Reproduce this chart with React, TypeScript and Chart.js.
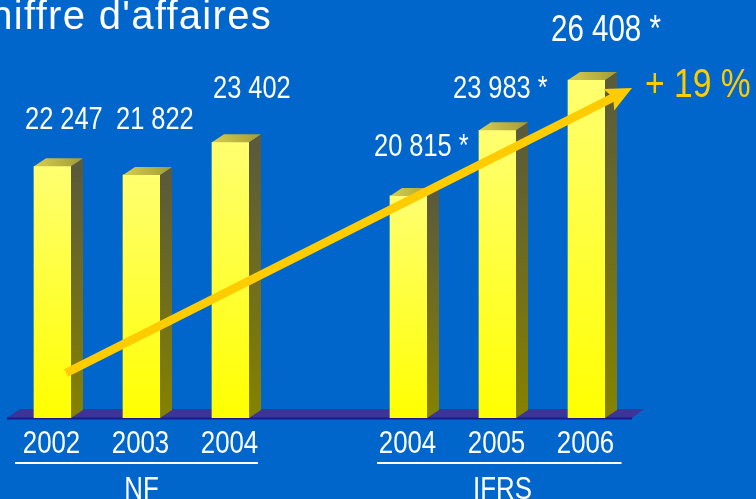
import { useEffect, useRef } from 'react';
import { Chart, registerables } from 'chart.js';

Chart.register(...registerables);

// ---- data ----
const categories = ['2002', '2003', '2004', '', '2004', '2005', '2006'];
const revenue = [22247, 21822, 23402, null, 20815, 23983, 26408];
const valueLabels = ['22 247', '21 822', '23 402', '', '20 815 *', '23 983 *', '26 408 *'];
const groupNames = ['NF', 'IFRS'];
const growthLabel = '+ 19 %';
const titleText = "Chiffre d'affaires";

// ---- styling ----
const FONT = "'Liberation Sans', Arial, sans-serif";
const NARROW_SCALE = 0.82;
const BG = '#0066CC';
const AXIS_MIN = 10100;
const DX = 12;
const DY = 8;
// label placement relative to bar front-left edge / front top (style only)
const labelOffsets: [number, number, number][] = [
  [-9, -37, 31],
  [-7, -46, 31],
  [1, -44, 31],
  [0, 0, 31],
  [-16, -40, 31],
  [-26, -32, 31],
  [-17, -39, 36],
];

function narrowText(ctx: CanvasRenderingContext2D, text: string, x: number, y: number, size: number, align: 'left' | 'center' | 'right') {
  ctx.save();
  ctx.font = `${size}px ${FONT}`;
  ctx.textAlign = align;
  ctx.textBaseline = 'alphabetic';
  ctx.translate(x, y);
  ctx.scale(NARROW_SCALE, 1);
  ctx.fillText(text, 0, 0);
  ctx.restore();
}

const deco = {
  id: 'deco',
  beforeDatasetsDraw(chart: any) {
    const { ctx, scales } = chart;
    const x = scales.x;
    const y = scales.y;
    const fl = x.getPixelForValue(0) - 45.5;
    const fr = x.getPixelForValue(6) + 45.5;
    const fy = y.getPixelForValue(y.min);
    ctx.save();
    ctx.fillStyle = '#3B3599';
    ctx.beginPath();
    ctx.moveTo(fl, fy);
    ctx.lineTo(fl + 13, fy - 9);
    ctx.lineTo(fr + 12, fy - 9);
    ctx.lineTo(fr, fy);
    ctx.closePath();
    ctx.fill();
    ctx.fillStyle = '#1A1A8C';
    ctx.fillRect(fl, fy - 0.5, fr - fl, 2);
    ctx.restore();
  },
  afterDatasetsDraw(chart: any) {
    const { ctx, scales } = chart;
    const x = scales.x;
    const y = scales.y;
    const meta = chart.getDatasetMeta(0);
    const base = y.getPixelForValue(y.min);
    ctx.save();
    meta.data.forEach((bar: any, i: number) => {
      if (revenue[i] == null) return;
      const p = bar.getProps(['x', 'y', 'width'], true);
      const l = p.x - p.width / 2;
      const r = p.x + p.width / 2;
      const top = p.y;
      // side face
      const sg = ctx.createLinearGradient(0, top, 0, base);
      sg.addColorStop(0, '#5A5A3C');
      sg.addColorStop(1, '#868200');
      ctx.fillStyle = sg;
      ctx.beginPath();
      ctx.moveTo(r, top);
      ctx.lineTo(r + DX, top - DY);
      ctx.lineTo(r + DX, base - DY);
      ctx.lineTo(r, base);
      ctx.closePath();
      ctx.fill();
      // top face
      const tg = ctx.createLinearGradient(l, top, r + DX, top - DY);
      tg.addColorStop(0, '#D6CE50');
      tg.addColorStop(1, '#A39B34');
      ctx.fillStyle = tg;
      ctx.beginPath();
      ctx.moveTo(l, top);
      ctx.lineTo(l + DX, top - DY);
      ctx.lineTo(r + DX, top - DY);
      ctx.lineTo(r, top);
      ctx.closePath();
      ctx.fill();
      // value label
      const [ox, oy, fs] = labelOffsets[i];
      ctx.fillStyle = '#FFFFFF';
      narrowText(ctx, valueLabels[i], l + ox, top + oy, fs, 'left');
    });

    // category labels
    ctx.fillStyle = '#FFFFFF';
    categories.forEach((c, i) => {
      if (!c) return;
      narrowText(ctx, c, x.getPixelForValue(i) - 1, 453, 31.5, 'center');
    });
    // group underlines
    const g1l = x.getPixelForValue(0) - 37.5;
    const g1r = x.getPixelForValue(2) + 27.5;
    const g2l = x.getPixelForValue(4) - 31.5;
    const g2r = x.getPixelForValue(6) + 35;
    ctx.fillRect(g1l, 462, g1r - g1l, 2);
    ctx.fillRect(g2l, 462, g2r - g2l, 2);
    narrowText(ctx, groupNames[0], x.getPixelForValue(1), 499, 31.5, 'center');
    narrowText(ctx, groupNames[1], x.getPixelForValue(5) + 5, 499, 31.5, 'center');

    // title
    ctx.save();
    ctx.font = `40px ${FONT}`;
    (ctx as any).letterSpacing = '1.3px';
    ctx.textAlign = 'right';
    ctx.fillText(titleText, 272, 29);
    ctx.restore();

    // arrow
    const sx = x.getPixelForValue(0) + 13.5;
    const sy = 373;
    const tx = x.getPixelForValue(6) + 45.5;
    const ty = 88;
    const len = Math.hypot(tx - sx, ty - sy);
    const ux = (tx - sx) / len;
    const uy = (ty - sy) / len;
    const nx = -uy;
    const ny = ux;
    const headL = 26;
    const headW = 12;
    ctx.strokeStyle = '#FFCC00';
    ctx.fillStyle = '#FFCC00';
    ctx.lineWidth = 8.5;
    ctx.lineCap = 'butt';
    ctx.beginPath();
    ctx.moveTo(sx, sy);
    ctx.lineTo(tx - ux * (headL - 6), ty - uy * (headL - 6));
    ctx.stroke();
    const bx = tx - ux * headL;
    const by = ty - uy * headL;
    ctx.beginPath();
    ctx.moveTo(tx, ty);
    ctx.lineTo(bx + nx * headW, by + ny * headW);
    ctx.lineTo(tx - ux * (headL - 5), ty - uy * (headL - 5));
    ctx.lineTo(bx - nx * headW, by - ny * headW);
    ctx.closePath();
    ctx.fill();

    // growth label
    narrowText(ctx, growthLabel, 645, 97, 41, 'left');
    ctx.restore();
  },
};

export default function App() {
  const ref = useRef<HTMLCanvasElement>(null);
  useEffect(() => {
    if (!ref.current) return;
    const chart = new Chart(ref.current, {
      type: 'bar',
      data: {
        labels: categories,
        datasets: [
          {
            data: revenue as any,
            base: AXIS_MIN,
            barThickness: 37,
            borderWidth: 0,
            backgroundColor: (c: any) => {
              const ch = c.chart;
              if (!ch.chartArea || c.raw == null) return '#FFFF00';
              const yScale = ch.scales.y;
              const top = yScale.getPixelForValue(c.raw);
              const bottom = yScale.getPixelForValue(yScale.min);
              const g = ch.ctx.createLinearGradient(0, top, 0, bottom);
              g.addColorStop(0, '#FFFF70');
              g.addColorStop(1, '#FFFF00');
              return g;
            },
          } as any,
        ],
      },
      options: {
        responsive: false,
        animation: false,
        devicePixelRatio: 1,
        layout: { padding: { left: 8, right: 125, top: 47, bottom: 81 } },
        plugins: { legend: { display: false }, tooltip: { enabled: false } },
        scales: {
          x: { display: false, offset: true, grid: { display: false } },
          y: { display: false, min: AXIS_MIN, max: 28000 },
        },
      },
      plugins: [deco],
    });
    return () => chart.destroy();
  }, []);
  return (
    <div style={{ position: 'absolute', left: 0, top: 0, width: 756, height: 499, background: BG, overflow: 'hidden' }}>
      <canvas ref={ref} width={756} height={499} style={{ display: 'block' }} />
    </div>
  );
}
